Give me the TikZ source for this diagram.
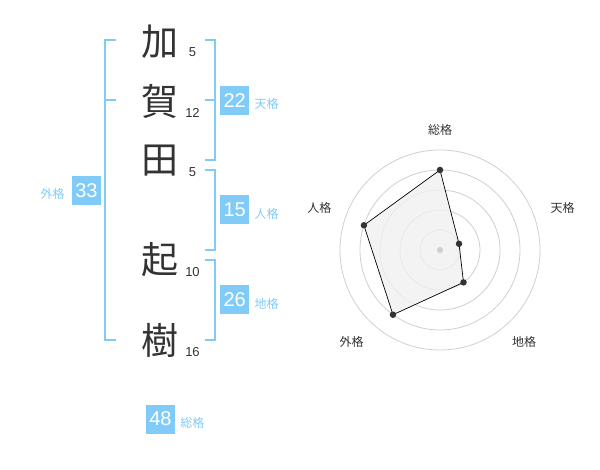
\documentclass[tikz,border=0pt]{standalone}
\usepackage{fontspec}
\setmainfont{Liberation Sans}
\newfontfamily\jpfont{Noto Sans CJK JP}
\usepackage{xcolor}
\usetikzlibrary{positioning}
\definecolor{kakublue}{HTML}{80CBF8}
\definecolor{inkgray}{HTML}{333333}
\definecolor{ringgray}{HTML}{CFCFCF}
\definecolor{areagray}{HTML}{F0F0F0}
\tikzset{
	kanji/.style={font=\jpfont\fontsize{37}{37}\selectfont, text=inkgray, inner sep=0pt},
	strokes/.style={font=\fontsize{13}{13}\selectfont, text=inkgray, inner sep=0pt},
	bracket/.style={draw=kakublue, line width=2pt},
	kakubox/.style={rectangle, fill=kakublue, text=white, minimum size=29pt, inner sep=0pt, font=\fontsize{20}{20}\selectfont},
	kakulabel/.style={text=kakublue, font=\jpfont\fontsize{12}{12}\selectfont, inner sep=0pt},
	ring/.style={draw=ringgray, line width=0.8pt},
	axislabel/.style={text=inkgray, font=\jpfont\fontsize{12}{12}\selectfont, inner sep=0pt},
	datapoint/.style={circle, fill=inkgray, inner sep=0pt, minimum size=6.5pt}
}

\begin{document}
\begin{tikzpicture}[x=1pt, y=-1pt]
	\useasboundingbox (0,0) rectangle (600,470);
	
	% Name, one character per row, stroke counts beside
	\node[kanji] (c1) at (160,42) {加};
	\node[kanji] (c2) at (160,101) {賀};
	\node[kanji] (c3) at (160,161) {田};
	\node[kanji] (c4) at (160,260) {起};
	\node[kanji] (c5) at (160,340) {樹};
	\node[strokes] (s1) at (192.5,52) {5};
	\node[strokes] (s2) at (192.5,112.5) {12};
	\node[strokes] (s3) at (192.5,172.5) {5};
	\node[strokes] (s4) at (192.5,272) {10};
	\node[strokes] (s5) at (192.5,352.5) {16};
	
	% Brackets
	\draw[bracket] (116,40) -- (105,40) -- (105,340) -- (116,340);
	\draw[bracket] (105,100) -- (116,100);
	\draw[bracket] (205,40) -- (215,40) -- (215,160) -- (205,160);
	\draw[bracket] (205,100) -- (215,100);
	\draw[bracket] (205,170) -- (215,170) -- (215,250) -- (205,250);
	\draw[bracket] (205,260) -- (215,260) -- (215,340) -- (205,340);
	
	% Scores
	\node[kakubox] (ten) at (234.7,100.5) {22};
	\node[kakulabel, right=5pt of ten, yshift=-3.5pt] (tenl) {天格};
	\node[kakubox] (jin) at (234.7,210) {15};
	\node[kakulabel, right=5pt of jin, yshift=-3.5pt] (jinl) {人格};
	\node[kakubox] (chi) at (234.7,300) {26};
	\node[kakulabel, right=5pt of chi, yshift=-3.5pt] (chil) {地格};
	\node[kakubox] (gai) at (86.5,190.5) {33};
	\node[kakulabel, left=7pt of gai, yshift=-3.5pt] (gail) {外格};
	\node[kakubox] (sou) at (160.5,419) {48};
	\node[kakulabel, right=5pt of sou, yshift=-3.5pt] (soul) {総格};
	
	% Radar chart
	\begin{scope}[shift={(440,250)}, yscale=-1]
		\foreach \r in {20,40,60,80,100}
			\draw[ring] (0,0) circle (\r);
		\coordinate (vsou) at (90:80);
		\coordinate (vten) at (18:20);
		\coordinate (vchi) at (-54:40);
		\coordinate (vgai) at (-126:80);
		\coordinate (vjin) at (162:80);
		\filldraw[fill=areagray, draw=black, line width=0.7pt, fill opacity=0.8]
			(vsou) -- (vten) -- (vchi) -- (vgai) -- (vjin) -- cycle;
		\fill[ringgray] (0,0) circle (3);
		\foreach \v in {vsou,vten,vchi,vgai,vjin}
			\node[datapoint] at (\v) {};
		\node[axislabel] (asou) at (0,120) {総格};
		\node[axislabel] (aten) at (122.7,41.7) {天格};
		\node[axislabel] (achi) at (84,-91.7) {地格};
		\node[axislabel] (agai) at (-88.3,-91.7) {外格};
		\node[axislabel] (ajin) at (-120.7,41.7) {人格};
	\end{scope}
\end{tikzpicture}
\end{document}
